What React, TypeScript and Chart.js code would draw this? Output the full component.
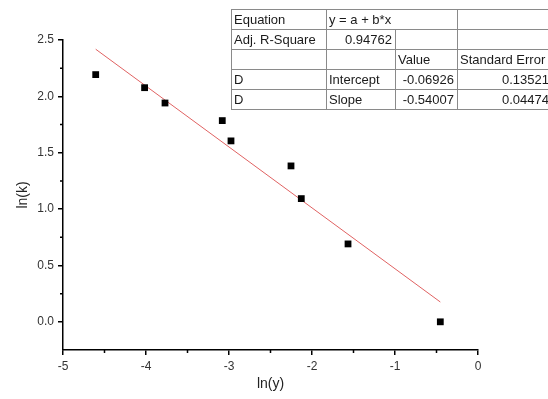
import { useEffect, useRef } from 'react';
import { Chart, registerables } from 'chart.js';

Chart.register(...registerables);

// Measured points: ln(y) against ln(k)
const lnY = [-4.606, -4.017, -3.771, -3.081, -2.976, -2.253, -2.129, -1.566, -0.454];
const lnK = [2.193, 2.077, 1.941, 1.785, 1.605, 1.383, 1.093, 0.691, 0.0];

// Linear fit results
const intercept = -0.06926;
const slope = -0.54007;
const interceptErr = 0.13521;
const slopeErr = 0.04474;
const adjRSquare = 0.94762;

// Axis ticks
const xTicks = [-5, -4, -3, -2, -1, 0];
const xMinorTicks = [-4.5, -3.5, -2.5, -1.5, -0.5];
const yTicks = [0, 0.5, 1, 1.5, 2, 2.5];
const yMinorTicks = [0.25, 0.75, 1.25, 1.75, 2.25];

// Fit summary table
const tableRows: string[][] = [
  ['Equation', 'y = a + b*x', '', ''],
  ['Adj. R-Square', adjRSquare.toFixed(5), '', ''],
  ['', '', 'Value', 'Standard Error'],
  ['D', 'Intercept', intercept.toFixed(5), interceptErr.toFixed(5)],
  ['D', 'Slope', slope.toFixed(5), slopeErr.toFixed(5)],
];

const FONT = '"Liberation Sans", Arial, sans-serif';

const minorTicksPlugin = {
  id: 'minorTicks',
  afterDraw(chart: any) {
    const { ctx, scales } = chart;
    const xs = scales.x;
    const ys = scales.y;
    ctx.save();
    ctx.strokeStyle = '#000';
    ctx.lineWidth = 1.5;
    ctx.beginPath();
    for (const v of xMinorTicks) {
      const px = xs.getPixelForValue(v);
      ctx.moveTo(px, ys.bottom);
      ctx.lineTo(px, ys.bottom + 3);
    }
    for (const v of yMinorTicks) {
      const py = ys.getPixelForValue(v);
      ctx.moveTo(xs.left, py);
      ctx.lineTo(xs.left - 3, py);
    }
    ctx.stroke();
    ctx.restore();
  },
};

const fitTablePlugin = {
  id: 'fitTable',
  afterDraw(chart: any) {
    const { ctx } = chart;
    const colX = [231, 326, 395, 457, 552];
    const top = 9;
    const rowH = 20;
    const bottom = top + rowH * tableRows.length;
    ctx.save();
    ctx.fillStyle = '#fff';
    ctx.fillRect(colX[0], top, colX[4] - colX[0], bottom - top);
    ctx.strokeStyle = '#8a8a8a';
    ctx.lineWidth = 1;
    ctx.beginPath();
    for (let r = 0; r <= tableRows.length; r++) {
      const y = top + r * rowH + 0.5;
      ctx.moveTo(colX[0], y);
      ctx.lineTo(colX[4], y);
    }
    for (let c = 0; c < colX.length; c++) {
      const x = colX[c] + 0.5;
      for (let r = 0; r < tableRows.length; r++) {
        // first row: equation cell spans two columns
        if (r === 0 && c === 2) continue;
        ctx.moveTo(x, top + r * rowH);
        ctx.lineTo(x, top + (r + 1) * rowH);
      }
    }
    ctx.stroke();

    ctx.font = `13px ${FONT}`;
    ctx.fillStyle = '#1a1a1a';
    ctx.textBaseline = 'middle';
    tableRows.forEach((row, r) => {
      const cy = top + r * rowH + rowH / 2 + 1;
      row.forEach((txt, c) => {
        if (!txt) return;
        const numeric = !isNaN(Number(txt));
        if (numeric) {
          ctx.textAlign = 'right';
          ctx.fillText(txt, colX[c + 1] - 3, cy);
        } else {
          ctx.textAlign = 'left';
          ctx.fillText(txt, colX[c] + 3, cy);
        }
      });
    });
    ctx.restore();
  },
};

export default function App() {
  const canvasRef = useRef<HTMLCanvasElement>(null);

  useEffect(() => {
    if (!canvasRef.current) return;
    const xMin = Math.min(...lnY);
    const xMax = Math.max(...lnY);
    const fitLine = [
      { x: xMin, y: intercept + slope * xMin },
      { x: xMax, y: intercept + slope * xMax },
    ];
    const points = lnY.map((x, i) => ({ x, y: lnK[i] }));

    const tickFont = { family: FONT, size: 12 };
    const chart = new Chart(canvasRef.current, {
      type: 'scatter',
      data: {
        datasets: [
          {
            type: 'scatter',
            label: 'D',
            data: points,
            pointStyle: 'rect',
            pointRadius: 4.8,
            backgroundColor: '#000',
            borderColor: '#000',
            borderWidth: 0,
            order: 1,
          },
          {
            type: 'line',
            label: 'Linear Fit',
            data: fitLine,
            borderColor: '#e06262',
            borderWidth: 1,
            pointRadius: 0,
            showLine: true,
            fill: false,
            order: 2,
          },
        ],
      } as any,
      options: {
        animation: false,
        responsive: false,
        layout: { padding: { left: 0, top: 40, right: 70, bottom: 0 } },
        plugins: {
          legend: { display: false },
          tooltip: { enabled: false },
        },
        scales: {
          x: {
            type: 'linear',
            min: -5,
            max: 0,
            afterBuildTicks: (s: any) => {
              s.ticks = xTicks.map((v) => ({ value: v }));
            },
            afterFit: (s: any) => {
              s.height = 49;
            },
            ticks: {
              callback: (v: any) => String(v),
              font: tickFont,
              color: '#333',
              padding: 4,
              maxRotation: 0,
              autoSkip: false,
            },
            grid: {
              drawOnChartArea: false,
              drawTicks: true,
              tickLength: 5,
              color: '#000',
              lineWidth: 1.5,
            },
            border: { display: true, color: '#000', width: 1.5 },
            title: {
              display: true,
              text: 'ln(y)',
              font: { family: FONT, size: 14 },
              color: '#222',
              padding: { top: 0, bottom: 6 },
            },
          },
          y: {
            type: 'linear',
            min: -0.25,
            max: 2.5,
            afterBuildTicks: (s: any) => {
              s.ticks = yTicks.map((v) => ({ value: v }));
            },
            afterFit: (s: any) => {
              s.width = 63;
            },
            ticks: {
              callback: (v: any) => Number(v).toFixed(1),
              font: tickFont,
              color: '#333',
              padding: 4,
              autoSkip: false,
            },
            grid: {
              drawOnChartArea: false,
              drawTicks: true,
              tickLength: 5,
              color: '#000',
              lineWidth: 1.5,
            },
            border: { display: true, color: '#000', width: 1.5 },
            title: {
              display: true,
              text: 'ln(k)',
              font: { family: FONT, size: 14 },
              color: '#222',
              padding: { top: 15, bottom: 0 },
            },
          },
        },
      } as any,
      plugins: [minorTicksPlugin, fitTablePlugin],
    });
    return () => chart.destroy();
  }, []);

  return (
    <div style={{ position: 'absolute', left: 0, top: 0, width: 548, height: 399, background: '#fff' }}>
      <canvas ref={canvasRef} width={548} height={399} />
    </div>
  );
}
